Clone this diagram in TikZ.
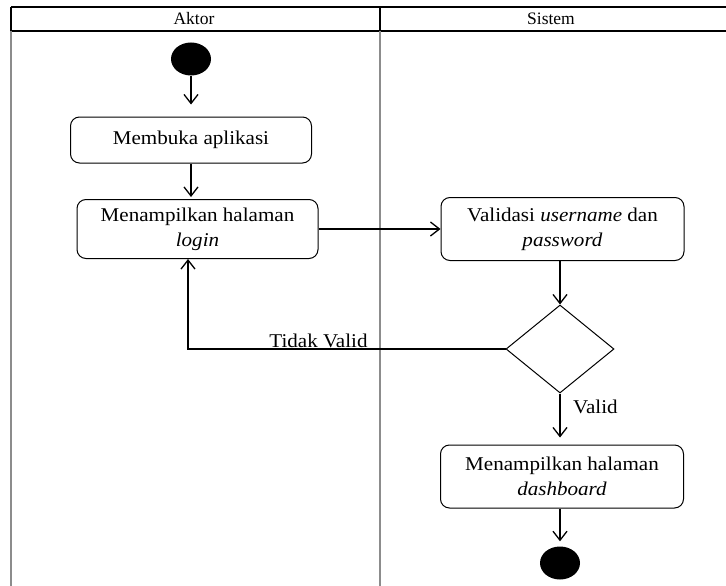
\documentclass[tikz,border=0pt]{standalone}
\usepackage{fontspec}
\setmainfont{Liberation Serif}
\newfontfamily\bodyfont{Liberation Serif}[FakeStretch=1.08]
\usetikzlibrary{arrows.meta,shapes.geometric}
\begin{document}
\begin{tikzpicture}[x=1pt,y=-1pt,
  every node/.style={font=\bodyfont\fontsize{19.5}{25}\selectfont},
  activity/.style={draw,line width=1pt,rounded corners=9pt,inner sep=0pt,align=center},
  decision/.style={draw,line width=1pt,diamond,inner sep=0pt,minimum width=108pt,minimum height=88pt},
  dot/.style={fill=black,ellipse,inner sep=0pt,minimum width=40pt,minimum height=33pt},
  flow/.style={line width=1.5pt,-{Straight Barb[length=9pt,width=14pt,line width=1.3pt]}},
  lane/.style={line width=1.4pt},
  lanegray/.style={line width=1.4pt,draw=black!45},
  head/.style={font=\fontsize{17.5}{20}\selectfont}]
\useasboundingbox (0,0) rectangle (726,586);

% swimlane frame
\draw[lane] (11,7) -- (726,7);
\draw[lane] (11,31) -- (726,31);
\draw[lane] (11,7) -- (11,31);
\draw[lane] (380,7) -- (380,31);
\draw[lanegray] (11,31) -- (11,586);
\draw[lanegray] (380,31) -- (380,586);
\node[head] (hA) at (194,19) {Aktor};
\node[head] (hS) at (551,19) {Sistem};

% activities
\node[dot] (start) at (191,59) {};
\node[activity,minimum width=241pt,minimum height=46pt] (open) at (191,140) {Membuka aplikasi};
\node[activity,minimum width=241pt,minimum height=59pt] (login) at (197.5,229) {Menampilkan halaman\\\textit{login}};
\node[activity,minimum width=243pt,minimum height=63pt] (valid) at (562.5,229) {Validasi \textit{username} dan\\\textit{password}};
\node[decision] (dia) at (560,349) {};
\node[activity,minimum width=243pt,minimum height=63pt] (dash) at (562,476.5) {Menampilkan halaman\\\textit{dashboard}};
\node[dot] (end) at (560,563) {};
\coordinate (tv) at (188,349);

% flows
\draw[flow,shorten >=12pt] (start.south) -- (start.south |- open.north);
\draw[flow,shorten >=2pt] (open.south) -- (open.south |- login.north);
\draw[flow] (login.east) -- (login.east -| valid.west);
\draw[flow] (dia.north |- valid.south) -- (dia.north);
\draw[flow] (dia.west) -- (tv) -- (tv |- login.south);
\draw[flow,shorten >=7pt] (dia.south) -- (dia.south |- dash.north);
\draw[flow,shorten >=5pt] (end.north |- dash.south) -- (end.north);

% guard labels
\node[anchor=base,inner sep=0pt] (lblTV) at (318.5,347) {Tidak Valid};
\node[anchor=base west,inner sep=0pt] (lblV) at (573,413) {Valid};
\end{tikzpicture}
\end{document}
